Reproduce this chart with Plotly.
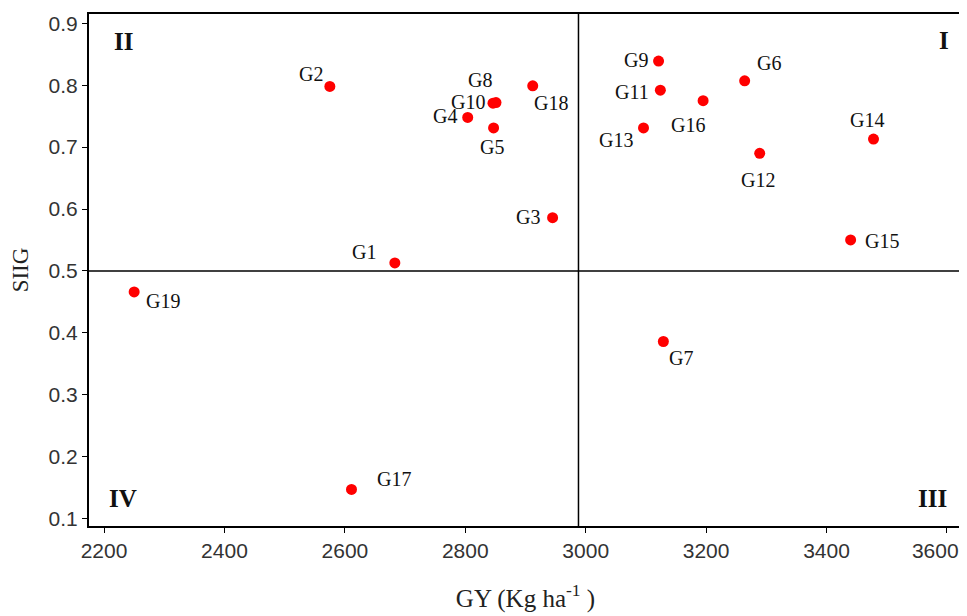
import plotly.graph_objects as go

genotypes = ["G1", "G2", "G3", "G4", "G5", "G6", "G7", "G8", "G9", "G10",
             "G11", "G12", "G13", "G14", "G15", "G16", "G17", "G18", "G19"]
gy = [2683, 2575, 2945, 2804, 2847, 3264, 3129, 2851, 3121, 2846,
      3124, 3289, 3096, 3478, 3440, 3195, 2611, 2912, 2250]
siig = [0.513, 0.798, 0.586, 0.748, 0.731, 0.807, 0.386, 0.772, 0.839, 0.771,
        0.792, 0.690, 0.731, 0.713, 0.550, 0.775, 0.147, 0.799, 0.466]

gy_cut = 2988
siig_cut = 0.5

quadrants = ["I", "II", "III", "IV"]
x_ticks = [2200, 2400, 2600, 2800, 3000, 3200, 3400, 3600]
y_ticks = [0.1, 0.2, 0.3, 0.4, 0.5, 0.6, 0.7, 0.8, 0.9]

# tick text; the last label is nudged left (via trailing spaces) so it stays inside the page
x_tick_text = [str(v) for v in x_ticks]
x_tick_text[-1] = x_tick_text[-1] + "\u00a0" * 4

# label offsets in screen pixels (dx right, dy down)
label_offsets = {
    "G1": (-31, -11), "G2": (-19, -12), "G3": (-25, -1), "G4": (-23, -1),
    "G5": (-2, 19), "G6": (24, -18), "G7": (18, 16), "G8": (-16, -23),
    "G9": (-23, -1), "G10": (-25, -1), "G11": (-28, 2), "G12": (-2, 27),
    "G13": (-28, 12), "G14": (-7, -19), "G15": (31, 1), "G16": (-15, 24),
    "G17": (42, -10), "G18": (18, 17), "G19": (29, 9),
}
quad_pos = {"I": (0.979, 0.949), "II": (0.039, 0.947),
            "III": (0.966, 0.053), "IV": (0.039, 0.054)}

serif = "Liberation Serif, Times New Roman, serif"
sans = "Liberation Sans Narrow, Liberation Sans, Arial, sans-serif"

fig = go.Figure()
fig.add_trace(go.Scatter(
    x=gy, y=siig, mode="markers", text=genotypes,
    marker=dict(color="#ff0000", size=11, line=dict(width=0)),
    hoverinfo="text+x+y", showlegend=False,
))

annotations = []
for g, xv, yv in zip(genotypes, gy, siig):
    dx, dy = label_offsets[g]
    annotations.append(dict(
        x=xv, y=yv, xref="x", yref="y", text=g, showarrow=False,
        xanchor="center", yanchor="middle",
        xshift=dx, yshift=-dy, font=dict(family=serif, size=20, color="#111111"),
    ))
for q in quadrants:
    px, py = quad_pos[q]
    annotations.append(dict(
        x=px, y=py, xref="paper", yref="paper", text="<b>%s</b>" % q,
        xanchor="center", yanchor="middle",
        showarrow=False, font=dict(family=serif, size=25, color="#111111"),
    ))

shapes = [
    dict(type="line", xref="x", yref="paper", x0=gy_cut, x1=gy_cut, y0=0, y1=1,
         line=dict(color="black", width=1.5)),
    dict(type="line", xref="paper", yref="y", x0=0, x1=1, y0=siig_cut, y1=siig_cut,
         line=dict(color="black", width=1.5)),
]

fig.update_layout(
    width=959, height=608,
    margin=dict(l=81, r=5, t=6, b=90),
    paper_bgcolor="white", plot_bgcolor="white",
    annotations=annotations, shapes=shapes,
    xaxis=dict(
        range=[2175, 3625], tickvals=x_ticks, ticktext=x_tick_text,
        ticks="outside", ticklen=5,
        tickcolor="black", showline=True, linecolor="black", linewidth=2,
        mirror=True, showgrid=False, zeroline=False, automargin=False,
        ticklabeloverflow="allow",
        tickfont=dict(family=sans, size=21, color="#333333"),
        title=dict(text="GY (Kg ha<sup>-1</sup> )", standoff=28,
                   font=dict(family=serif, size=25, color="#222222")),
    ),
    yaxis=dict(
        range=[0.088, 0.915], tickvals=y_ticks, tickformat=".1f", ticks="outside",
        ticklen=5, tickcolor="black", showline=True, linecolor="black",
        linewidth=2, mirror=True, showgrid=False, zeroline=False, automargin=False,
        ticklabeloverflow="allow",
        tickfont=dict(family=sans, size=21, color="#333333"),
        title=dict(text="SIIG", standoff=14,
                   font=dict(family=serif, size=23, color="#222222")),
    ),
)

fig.write_html("out.html")
